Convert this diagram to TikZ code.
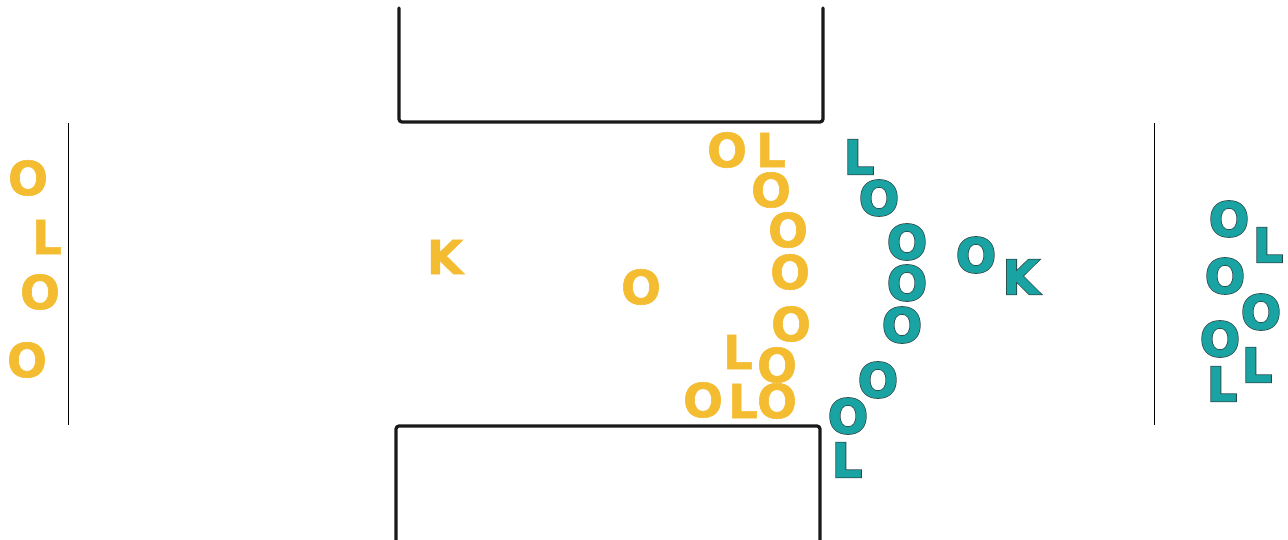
\documentclass[tikz,border=0pt]{standalone}
\usepackage{fontspec}
\newfontface\letfont{DejaVu Sans Bold}[FakeBold=1.2]
\newfontface\letfontfb{DejaVu Sans Bold}[FakeBold=4.5]
\definecolor{yel}{HTML}{F4BC30}
\definecolor{tealfill}{HTML}{1AA3A3}
\definecolor{tealline}{HTML}{2A4A4A}
\definecolor{thin}{HTML}{8A8A8A}
\newcommand\tletter[1]{\makebox[0pt][l]{\textcolor{tealline}{\letfontfb #1}}\textcolor{tealfill}{#1}}
\tikzset{
  ylet/.style={inner sep=0pt, text=yel, font=\letfont\fontsize{47}{47}\selectfont},
  tlet/.style={inner sep=0pt, font=\letfont\fontsize{47}{47}\selectfont},
  wall/.style={line width=3.2pt, rounded corners=3pt, line cap=round, black!90},
  thinline/.style={line width=1.5pt, thin}
}
\begin{document}
\begin{tikzpicture}[x=1pt,y=-1pt]
\useasboundingbox[fill=white] (0,0) rectangle (1288,540);
% walls
\coordinate (ta) at (399,8);
\coordinate (tb) at (399,122);
\coordinate (tc) at (823,122);
\coordinate (td) at (823,8);
\draw[wall] (ta) -- (tb) -- (tc) -- (td);
\coordinate (ba) at (396,545);
\coordinate (bb) at (396,426);
\coordinate (bc) at (820,426);
\coordinate (bd) at (820,545);
\draw[wall] (ba) -- (bb) -- (bc) -- (bd);
% thin lines
\coordinate (l1) at (68,123);
\coordinate (l2) at (68,425);
\draw[thinline] (l1) -- (l2);
\coordinate (r1) at (1154,123);
\coordinate (r2) at (1154,425);
\draw[thinline] (r1) -- (r2);
% yellow letters left
\node[ylet] (y1) at (28,178) {O};
\node[ylet] (y2) at (47,237) {L};
\node[ylet] (y3) at (40,292) {O};
\node[ylet] (y4) at (27,360) {O};
\node[ylet] (yk) at (445,257) {K};
\node[ylet] (yo) at (641,287) {O};
% yellow arc
\node[ylet] (a1) at (727,150) {O};
\node[ylet] (a2) at (771,150) {L};
\node[ylet] (a3) at (771,190) {O};
\node[ylet] (a4) at (788,230) {O};
\node[ylet] (a5) at (790,272) {O};
\node[ylet] (a6) at (791,324) {O};
\node[ylet] (a7) at (738,352) {L};
\node[ylet] (a8) at (777,365) {O};
\node[ylet] (a9) at (703,400) {O};
\node[ylet] (a10) at (743,401) {L};
\node[ylet] (a11) at (777,401) {O};
% teal arc
\node[tlet] (t1) at (859,157) {\tletter{L}};
\node[tlet] (t2) at (879,198) {\tletter{O}};
\node[tlet] (t3) at (907,242) {\tletter{O}};
\node[tlet] (t4) at (907,283) {\tletter{O}};
\node[tlet] (t5) at (902,325) {\tletter{O}};
\node[tlet] (t6) at (878,380) {\tletter{O}};
\node[tlet] (t7) at (848,416) {\tletter{O}};
\node[tlet] (t8) at (847,460) {\tletter{L}};
\node[tlet] (to) at (976,255) {\tletter{O}};
\node[tlet] (tk) at (1021,277) {\tletter{K}};
% teal right
\node[tlet] (r1o) at (1229,219) {\tletter{O}};
\node[tlet] (r1l) at (1268,245) {\tletter{L}};
\node[tlet] (r2o) at (1225,276) {\tletter{O}};
\node[tlet] (r3o) at (1261,312) {\tletter{O}};
\node[tlet] (r4o) at (1220,339) {\tletter{O}};
\node[tlet] (r4l) at (1257,365) {\tletter{L}};
\node[tlet] (r5l) at (1222,384) {\tletter{L}};
\end{tikzpicture}
\end{document}
